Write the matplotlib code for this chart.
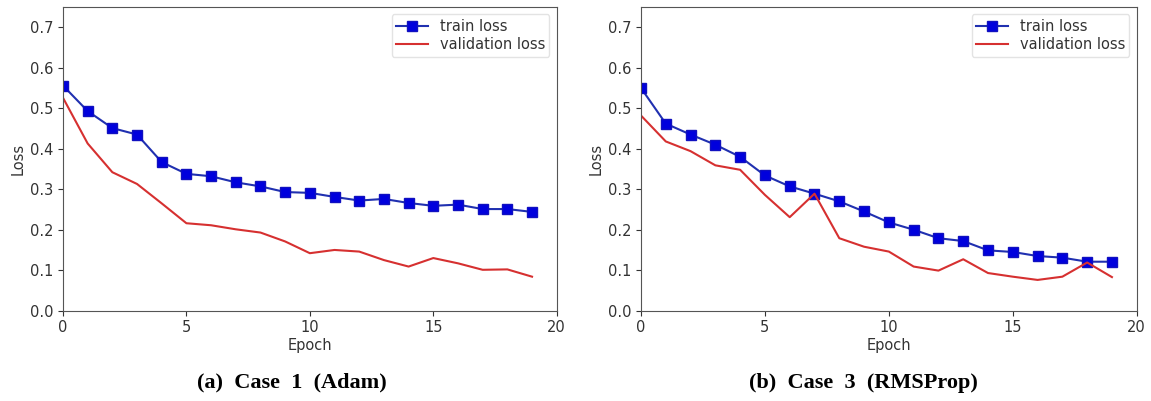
import matplotlib
matplotlib.use("Agg")
import matplotlib.pyplot as plt

# ── data ──────────────────────────────────────────────────────────────────────
epochs = list(range(20))

adam_train = [0.556, 0.493, 0.451, 0.435, 0.367, 0.338, 0.332, 0.317, 0.307, 0.293,
              0.291, 0.281, 0.272, 0.276, 0.266, 0.259, 0.262, 0.251, 0.251, 0.244]
adam_val = [0.526, 0.413, 0.342, 0.313, 0.265, 0.216, 0.211, 0.201, 0.193, 0.171,
            0.142, 0.150, 0.146, 0.125, 0.109, 0.130, 0.117, 0.101, 0.102, 0.084]

rms_train = [0.550, 0.462, 0.435, 0.410, 0.380, 0.334, 0.307, 0.289, 0.270, 0.245,
             0.218, 0.200, 0.179, 0.172, 0.149, 0.145, 0.135, 0.131, 0.121, 0.121]
rms_val = [0.482, 0.418, 0.394, 0.359, 0.348, 0.286, 0.231, 0.289, 0.179, 0.158,
           0.146, 0.109, 0.099, 0.127, 0.093, 0.084, 0.076, 0.084, 0.119, 0.083]

captions = ["(a)  Case  1  (Adam)", "(b)  Case  3  (RMSProp)"]
yticks = [0.0, 0.1, 0.2, 0.3, 0.4, 0.5, 0.6, 0.7]
xticks = [0, 5, 10, 15, 20]

TXT = "#333333"
FS = 10.5
plt.rcParams["font.family"] = "DejaVu Sans"

fig = plt.figure(figsize=(11.51, 4.01), dpi=100)
ax_a = fig.add_axes([0.0547, 0.2252, 0.4290, 0.7573])
ax_b = fig.add_axes([0.5569, 0.2252, 0.4307, 0.7573])

panels = [(ax_a, adam_train, adam_val), (ax_b, rms_train, rms_val)]
for ax, train, val in panels:
    ax.plot(epochs, train, color="#2030b0", linewidth=1.5, marker="s",
            markersize=6.5, markerfacecolor="#0000dd", markeredgecolor="#1010c0",
            label="train loss")
    ax.plot(epochs, val, color="#d63030", linewidth=1.5, label="validation loss")
    ax.set_xlim(0, 20)
    ax.set_ylim(0, 0.75)
    ax.set_xticks(xticks)
    ax.set_yticks(yticks)
    ax.set_yticklabels([f"{v:.1f}" for v in yticks])
    ax.tick_params(labelsize=FS, colors=TXT)
    ax.set_xlabel("Epoch", fontsize=FS, color=TXT, labelpad=2)
    ax.set_ylabel("Loss", fontsize=FS, color=TXT, labelpad=3)
    for s in ax.spines.values():
        s.set_color("#555555")
    leg = ax.legend(loc="upper right", fontsize=FS, frameon=True,
                    borderpad=0.3, labelspacing=0.25, handlelength=2.2,
                    borderaxespad=0.5)
    leg.get_frame().set_edgecolor("#dddddd")
    for t in leg.get_texts():
        t.set_color(TXT)

fig.text(0.2534, 0.045, captions[0], ha="center", va="center",
         family="Liberation Serif", fontweight="bold", fontsize=16)
fig.text(0.7504, 0.045, captions[1], ha="center", va="center",
         family="Liberation Serif", fontweight="bold", fontsize=16)

fig.savefig("out.png", dpi=100)
